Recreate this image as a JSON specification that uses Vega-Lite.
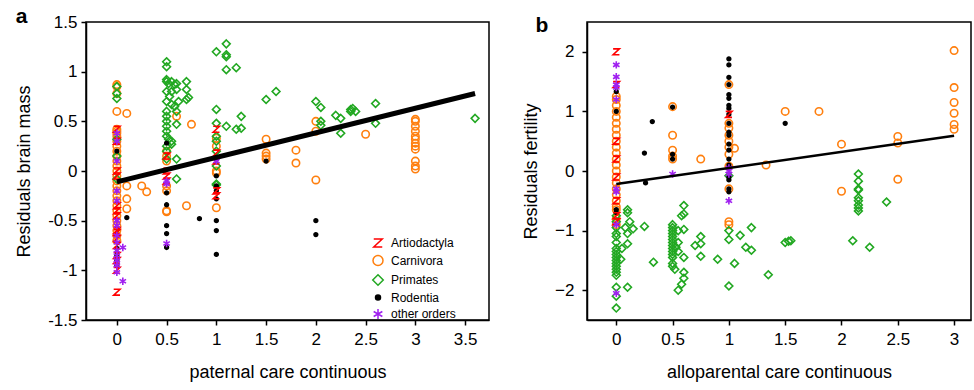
{
  "$schema": "https://vega.github.io/schema/vega-lite/v6.json",
  "padding": {"left": 14, "top": 5, "right": 0, "bottom": 0},
  "background": "white",
  "config": {
    "font": "Liberation Sans",
    "view": {"stroke": "black", "strokeWidth": 1.5},
    "axis": {"domainColor": "black", "domainWidth": 1.5, "tickColor": "black", "tickWidth": 1.5, "tickSize": 5, "labelColor": "black", "titleColor": "black", "labelFont": "Liberation Sans", "titleFont": "Liberation Sans", "labelFontSize": 17, "titleFontSize": 18, "titleFontWeight": "normal", "grid": false, "labelPadding": 4, "titlePadding": 14, "labelOverlap": false, "labelFlush": false},
    "legend": {"labelFont": "Liberation Sans", "labelFontSize": 12, "labelColor": "black"}
  },
  "datasets": {
    "a": [
      {"x":0,"y":0.87,"t":"Carnivora"},{"x":0,"y":0.85,"t":"Carnivora"},{"x":0,"y":0.78,"t":"Carnivora"},{"x":0,"y":0.6,"t":"Carnivora"},{"x":0,"y":0.42,"t":"Carnivora"},{"x":0,"y":0.4,"t":"Carnivora"},{"x":0,"y":0.38,"t":"Carnivora"},{"x":0,"y":0.35,"t":"Carnivora"},{"x":0,"y":0.3,"t":"Carnivora"},{"x":0,"y":0.25,"t":"Carnivora"},{"x":0,"y":0.2,"t":"Carnivora"},{"x":0,"y":0.15,"t":"Carnivora"},{"x":0,"y":0.1,"t":"Carnivora"},{"x":0,"y":0.05,"t":"Carnivora"},{"x":0,"y":0.0,"t":"Carnivora"},{"x":0,"y":-0.05,"t":"Carnivora"},{"x":0,"y":-0.1,"t":"Carnivora"},{"x":0,"y":-0.15,"t":"Carnivora"},{"x":0,"y":-0.2,"t":"Carnivora"},{"x":0,"y":-0.25,"t":"Carnivora"},{"x":0,"y":-0.3,"t":"Carnivora"},{"x":0,"y":-0.35,"t":"Carnivora"},{"x":0,"y":-0.4,"t":"Carnivora"},{"x":0,"y":-0.45,"t":"Carnivora"},{"x":0,"y":-0.5,"t":"Carnivora"},{"x":0,"y":-0.55,"t":"Carnivora"},{"x":0,"y":-0.6,"t":"Carnivora"},{"x":0,"y":-0.65,"t":"Carnivora"},{"x":0,"y":-0.7,"t":"Carnivora"},
      {"x":0.1,"y":0.58,"t":"Carnivora"},{"x":0.1,"y":-0.15,"t":"Carnivora"},{"x":0.1,"y":-0.28,"t":"Carnivora"},{"x":0.1,"y":-0.38,"t":"Carnivora"},{"x":0.25,"y":-0.15,"t":"Carnivora"},{"x":0.3,"y":-0.21,"t":"Carnivora"},{"x":0.6,"y":0.55,"t":"Carnivora"},{"x":0.75,"y":0.47,"t":"Carnivora"},{"x":0.5,"y":0.2,"t":"Carnivora"},{"x":0.5,"y":0.15,"t":"Carnivora"},{"x":0.5,"y":0.1,"t":"Carnivora"},{"x":0.5,"y":-0.15,"t":"Carnivora"},{"x":0.5,"y":-0.2,"t":"Carnivora"},{"x":0.5,"y":-0.4,"t":"Carnivora"},{"x":0.5,"y":-0.41,"t":"Carnivora"},{"x":0.7,"y":-0.35,"t":"Carnivora"},{"x":1,"y":0.33,"t":"Carnivora"},{"x":1,"y":0.25,"t":"Carnivora"},{"x":1,"y":0.0,"t":"Carnivora"},{"x":1,"y":-0.02,"t":"Carnivora"},{"x":1,"y":-0.37,"t":"Carnivora"},{"x":1.5,"y":0.32,"t":"Carnivora"},{"x":1.5,"y":0.18,"t":"Carnivora"},{"x":1.5,"y":0.15,"t":"Carnivora"},{"x":1.5,"y":0.12,"t":"Carnivora"},{"x":1.8,"y":0.21,"t":"Carnivora"},{"x":1.8,"y":0.08,"t":"Carnivora"},{"x":2,"y":0.5,"t":"Carnivora"},{"x":2,"y":0.4,"t":"Carnivora"},{"x":2,"y":-0.09,"t":"Carnivora"},{"x":2.5,"y":0.37,"t":"Carnivora"},{"x":3,"y":0.52,"t":"Carnivora"},{"x":3,"y":0.5,"t":"Carnivora"},{"x":3,"y":0.45,"t":"Carnivora"},{"x":3,"y":0.4,"t":"Carnivora"},{"x":3,"y":0.35,"t":"Carnivora"},{"x":3,"y":0.32,"t":"Carnivora"},{"x":3,"y":0.28,"t":"Carnivora"},{"x":3,"y":0.25,"t":"Carnivora"},{"x":3,"y":0.22,"t":"Carnivora"},{"x":3,"y":0.1,"t":"Carnivora"},{"x":3,"y":0.05,"t":"Carnivora"},{"x":3,"y":0.02,"t":"Carnivora"},
      {"x":0,"y":0.85,"t":"Primates"},{"x":0,"y":0.78,"t":"Primates"},{"x":0,"y":0.73,"t":"Primates"},{"x":0,"y":0.32,"t":"Primates"},{"x":0,"y":0.15,"t":"Primates"},{"x":0,"y":-0.08,"t":"Primates"},
      {"x":0.5,"y":1.1,"t":"Primates"},{"x":0.5,"y":1.05,"t":"Primates"},{"x":0.5,"y":0.92,"t":"Primates"},{"x":0.5,"y":0.9,"t":"Primates"},{"x":0.52,"y":0.88,"t":"Primates"},{"x":0.55,"y":0.9,"t":"Primates"},{"x":0.58,"y":0.87,"t":"Primates"},{"x":0.6,"y":0.88,"t":"Primates"},{"x":0.7,"y":0.9,"t":"Primates"},{"x":0.55,"y":0.8,"t":"Primates"},{"x":0.5,"y":0.8,"t":"Primates"},{"x":0.53,"y":0.75,"t":"Primates"},{"x":0.6,"y":0.82,"t":"Primates"},{"x":0.7,"y":0.82,"t":"Primates"},{"x":0.72,"y":0.74,"t":"Primates"},{"x":0.7,"y":0.72,"t":"Primates"},{"x":0.5,"y":0.7,"t":"Primates"},{"x":0.55,"y":0.67,"t":"Primates"},{"x":0.58,"y":0.65,"t":"Primates"},{"x":0.62,"y":0.7,"t":"Primates"},{"x":0.6,"y":0.6,"t":"Primates"},{"x":0.5,"y":0.6,"t":"Primates"},{"x":0.5,"y":0.55,"t":"Primates"},{"x":0.5,"y":0.5,"t":"Primates"},{"x":0.5,"y":0.45,"t":"Primates"},{"x":0.5,"y":0.4,"t":"Primates"},{"x":0.5,"y":0.35,"t":"Primates"},{"x":0.52,"y":0.32,"t":"Primates"},{"x":0.55,"y":0.3,"t":"Primates"},{"x":0.6,"y":0.47,"t":"Primates"},{"x":0.5,"y":0.25,"t":"Primates"},{"x":0.55,"y":0.27,"t":"Primates"},{"x":0.5,"y":0.12,"t":"Primates"},{"x":0.6,"y":0.12,"t":"Primates"},{"x":0.6,"y":-0.08,"t":"Primates"},{"x":0.5,"y":0.2,"t":"Primates"},
      {"x":1,"y":1.2,"t":"Primates"},{"x":1.1,"y":1.28,"t":"Primates"},{"x":1.1,"y":1.17,"t":"Primates"},{"x":1.1,"y":1.15,"t":"Primates"},{"x":1.1,"y":1.02,"t":"Primates"},{"x":1.2,"y":1.04,"t":"Primates"},{"x":1,"y":0.62,"t":"Primates"},{"x":1,"y":0.48,"t":"Primates"},{"x":1.1,"y":0.45,"t":"Primates"},{"x":1.25,"y":0.55,"t":"Primates"},{"x":1.2,"y":0.42,"t":"Primates"},{"x":1.25,"y":0.43,"t":"Primates"},{"x":1,"y":0.35,"t":"Primates"},{"x":1,"y":0.3,"t":"Primates"},{"x":1,"y":0.2,"t":"Primates"},{"x":1,"y":0.05,"t":"Primates"},{"x":1,"y":-0.13,"t":"Primates"},{"x":1,"y":-0.14,"t":"Primates"},
      {"x":1.5,"y":0.72,"t":"Primates"},{"x":1.6,"y":0.8,"t":"Primates"},{"x":2,"y":0.7,"t":"Primates"},{"x":2.05,"y":0.64,"t":"Primates"},{"x":2.05,"y":0.5,"t":"Primates"},{"x":2.05,"y":0.46,"t":"Primates"},{"x":2.2,"y":0.56,"t":"Primates"},{"x":2.25,"y":0.53,"t":"Primates"},{"x":2.25,"y":0.38,"t":"Primates"},{"x":2.35,"y":0.62,"t":"Primates"},{"x":2.35,"y":0.6,"t":"Primates"},{"x":2.37,"y":0.63,"t":"Primates"},{"x":2.4,"y":0.6,"t":"Primates"},{"x":2.6,"y":0.68,"t":"Primates"},{"x":2.6,"y":0.48,"t":"Primates"},{"x":3.6,"y":0.53,"t":"Primates"},
      {"x":0,"y":0.2,"t":"Rodentia"},{"x":0,"y":-0.78,"t":"Rodentia"},{"x":0,"y":-0.85,"t":"Rodentia"},{"x":0,"y":-0.9,"t":"Rodentia"},{"x":0,"y":-0.95,"t":"Rodentia"},{"x":0.1,"y":-0.47,"t":"Rodentia"},{"x":0.5,"y":0.28,"t":"Rodentia"},{"x":0.5,"y":-0.22,"t":"Rodentia"},{"x":0.5,"y":-0.34,"t":"Rodentia"},{"x":0.5,"y":-0.55,"t":"Rodentia"},{"x":0.5,"y":-0.63,"t":"Rodentia"},{"x":0.5,"y":-0.77,"t":"Rodentia"},{"x":0.83,"y":-0.48,"t":"Rodentia"},{"x":1,"y":0.12,"t":"Rodentia"},{"x":1,"y":-0.05,"t":"Rodentia"},{"x":1,"y":-0.15,"t":"Rodentia"},{"x":1,"y":-0.2,"t":"Rodentia"},{"x":1,"y":-0.28,"t":"Rodentia"},{"x":1,"y":-0.5,"t":"Rodentia"},{"x":1,"y":-0.6,"t":"Rodentia"},{"x":1,"y":-0.84,"t":"Rodentia"},{"x":1.5,"y":0.1,"t":"Rodentia"},{"x":2,"y":-0.5,"t":"Rodentia"},{"x":2,"y":-0.64,"t":"Rodentia"},
      {"x":0,"y":0.42,"t":"Artiodactyla"},{"x":0,"y":0.3,"t":"Artiodactyla"},{"x":0,"y":0.0,"t":"Artiodactyla"},{"x":0,"y":-0.05,"t":"Artiodactyla"},{"x":0,"y":-0.35,"t":"Artiodactyla"},{"x":0,"y":-0.4,"t":"Artiodactyla"},{"x":0,"y":-0.45,"t":"Artiodactyla"},{"x":0,"y":-0.6,"t":"Artiodactyla"},{"x":0,"y":-0.62,"t":"Artiodactyla"},{"x":0,"y":-0.68,"t":"Artiodactyla"},{"x":0,"y":-0.75,"t":"Artiodactyla"},{"x":0,"y":-0.85,"t":"Artiodactyla"},{"x":0,"y":-0.9,"t":"Artiodactyla"},{"x":0,"y":-1.0,"t":"Artiodactyla"},{"x":0,"y":-1.22,"t":"Artiodactyla"},{"x":0.5,"y":0.15,"t":"Artiodactyla"},{"x":0.5,"y":0.0,"t":"Artiodactyla"},{"x":0.5,"y":-0.05,"t":"Artiodactyla"},{"x":0.5,"y":-0.1,"t":"Artiodactyla"},{"x":1,"y":0.42,"t":"Artiodactyla"},{"x":1,"y":0.18,"t":"Artiodactyla"},{"x":1,"y":0.1,"t":"Artiodactyla"},{"x":1,"y":-0.2,"t":"Artiodactyla"},{"x":1,"y":-0.25,"t":"Artiodactyla"},
      {"x":0,"y":0.38,"t":"other orders"},{"x":0,"y":0.3,"t":"other orders"},{"x":0,"y":0.1,"t":"other orders"},{"x":0,"y":-0.2,"t":"other orders"},{"x":0,"y":-0.3,"t":"other orders"},{"x":0,"y":-0.5,"t":"other orders"},{"x":0,"y":-0.55,"t":"other orders"},{"x":0,"y":-0.65,"t":"other orders"},{"x":0,"y":-0.72,"t":"other orders"},{"x":0,"y":-0.8,"t":"other orders"},{"x":0,"y":-0.85,"t":"other orders"},{"x":0,"y":-0.9,"t":"other orders"},{"x":0,"y":-0.95,"t":"other orders"},{"x":0,"y":-1.02,"t":"other orders"},{"x":0.06,"y":-0.77,"t":"other orders"},{"x":0.06,"y":-1.11,"t":"other orders"},{"x":0.5,"y":-0.1,"t":"other orders"},{"x":0.5,"y":-0.13,"t":"other orders"},{"x":0.5,"y":-0.73,"t":"other orders"},{"x":1,"y":0.1,"t":"other orders"}
    ],
    "b": [
      {"x":0,"y":1.25,"t":"Carnivora"},{"x":0,"y":1.2,"t":"Carnivora"},{"x":0,"y":1.1,"t":"Carnivora"},{"x":0,"y":1.0,"t":"Carnivora"},{"x":0,"y":0.9,"t":"Carnivora"},{"x":0,"y":0.8,"t":"Carnivora"},{"x":0,"y":0.7,"t":"Carnivora"},{"x":0,"y":0.6,"t":"Carnivora"},{"x":0,"y":0.5,"t":"Carnivora"},{"x":0,"y":0.4,"t":"Carnivora"},{"x":0,"y":0.3,"t":"Carnivora"},{"x":0,"y":0.2,"t":"Carnivora"},{"x":0,"y":0.1,"t":"Carnivora"},{"x":0,"y":0.0,"t":"Carnivora"},{"x":0,"y":-0.1,"t":"Carnivora"},{"x":0,"y":-0.2,"t":"Carnivora"},{"x":0,"y":-0.3,"t":"Carnivora"},{"x":0,"y":-0.4,"t":"Carnivora"},{"x":0,"y":-0.5,"t":"Carnivora"},{"x":0,"y":-0.6,"t":"Carnivora"},{"x":0,"y":-0.65,"t":"Carnivora"},{"x":0,"y":-0.8,"t":"Carnivora"},{"x":0,"y":-0.9,"t":"Carnivora"},
      {"x":0.5,"y":1.08,"t":"Carnivora"},{"x":0.5,"y":0.6,"t":"Carnivora"},{"x":0.5,"y":0.35,"t":"Carnivora"},{"x":0.5,"y":0.25,"t":"Carnivora"},{"x":0.5,"y":0.2,"t":"Carnivora"},{"x":0.75,"y":0.2,"t":"Carnivora"},{"x":1,"y":1.45,"t":"Carnivora"},{"x":1,"y":0.8,"t":"Carnivora"},{"x":1,"y":0.72,"t":"Carnivora"},{"x":1,"y":0.6,"t":"Carnivora"},{"x":1,"y":0.5,"t":"Carnivora"},{"x":1,"y":0.4,"t":"Carnivora"},{"x":1,"y":0.28,"t":"Carnivora"},{"x":1,"y":0.08,"t":"Carnivora"},{"x":1,"y":-0.3,"t":"Carnivora"},{"x":1,"y":-0.85,"t":"Carnivora"},{"x":1,"y":-0.9,"t":"Carnivora"},{"x":1.05,"y":0.38,"t":"Carnivora"},{"x":1.33,"y":0.1,"t":"Carnivora"},{"x":1.5,"y":1.0,"t":"Carnivora"},{"x":1.8,"y":1.0,"t":"Carnivora"},{"x":2,"y":0.45,"t":"Carnivora"},{"x":2,"y":-0.34,"t":"Carnivora"},{"x":2.5,"y":0.58,"t":"Carnivora"},{"x":2.5,"y":0.47,"t":"Carnivora"},{"x":2.5,"y":-0.14,"t":"Carnivora"},{"x":3,"y":2.02,"t":"Carnivora"},{"x":3,"y":1.4,"t":"Carnivora"},{"x":3,"y":1.15,"t":"Carnivora"},{"x":3,"y":0.97,"t":"Carnivora"},{"x":3,"y":0.78,"t":"Carnivora"},{"x":3,"y":0.7,"t":"Carnivora"},
      {"x":0,"y":-0.75,"t":"Primates"},{"x":0,"y":-0.85,"t":"Primates"},{"x":0,"y":-0.95,"t":"Primates"},{"x":0,"y":-1.05,"t":"Primates"},{"x":0,"y":-1.1,"t":"Primates"},{"x":0,"y":-1.2,"t":"Primates"},{"x":0,"y":-1.3,"t":"Primates"},{"x":0,"y":-1.35,"t":"Primates"},{"x":0,"y":-1.4,"t":"Primates"},{"x":0,"y":-1.45,"t":"Primates"},{"x":0,"y":-1.5,"t":"Primates"},{"x":0,"y":-1.55,"t":"Primates"},{"x":0,"y":-1.6,"t":"Primates"},{"x":0,"y":-1.65,"t":"Primates"},{"x":0,"y":-1.7,"t":"Primates"},{"x":0,"y":-1.75,"t":"Primates"},{"x":0,"y":-1.95,"t":"Primates"},{"x":0,"y":-2.1,"t":"Primates"},{"x":0,"y":-2.3,"t":"Primates"},{"x":0.1,"y":-0.65,"t":"Primates"},{"x":0.1,"y":-0.7,"t":"Primates"},{"x":0.12,"y":-0.85,"t":"Primates"},{"x":0.08,"y":-0.95,"t":"Primates"},{"x":0.15,"y":-0.97,"t":"Primates"},{"x":0.1,"y":-1.05,"t":"Primates"},{"x":0.1,"y":-1.22,"t":"Primates"},{"x":0.05,"y":-1.3,"t":"Primates"},{"x":0.04,"y":-1.48,"t":"Primates"},{"x":0.1,"y":-1.95,"t":"Primates"},{"x":0.25,"y":-0.93,"t":"Primates"},{"x":0.33,"y":-1.53,"t":"Primates"},
      {"x":0.5,"y":-0.9,"t":"Primates"},{"x":0.5,"y":-0.95,"t":"Primates"},{"x":0.5,"y":-1.0,"t":"Primates"},{"x":0.5,"y":-1.05,"t":"Primates"},{"x":0.5,"y":-1.1,"t":"Primates"},{"x":0.5,"y":-1.15,"t":"Primates"},{"x":0.5,"y":-1.2,"t":"Primates"},{"x":0.5,"y":-1.25,"t":"Primates"},{"x":0.5,"y":-1.3,"t":"Primates"},{"x":0.5,"y":-1.35,"t":"Primates"},{"x":0.5,"y":-1.4,"t":"Primates"},{"x":0.5,"y":-1.45,"t":"Primates"},{"x":0.5,"y":-1.55,"t":"Primates"},{"x":0.5,"y":-1.6,"t":"Primates"},{"x":0.52,"y":-1.65,"t":"Primates"},{"x":0.55,"y":-1.0,"t":"Primates"},{"x":0.55,"y":-1.2,"t":"Primates"},{"x":0.55,"y":-1.35,"t":"Primates"},{"x":0.53,"y":-1.28,"t":"Primates"},{"x":0.6,"y":-0.58,"t":"Primates"},{"x":0.58,"y":-0.75,"t":"Primates"},{"x":0.6,"y":-0.72,"t":"Primates"},{"x":0.6,"y":-0.98,"t":"Primates"},{"x":0.6,"y":-1.45,"t":"Primates"},{"x":0.6,"y":-1.7,"t":"Primates"},{"x":0.6,"y":-1.8,"t":"Primates"},{"x":0.58,"y":-1.9,"t":"Primates"},{"x":0.55,"y":-2.0,"t":"Primates"},{"x":0.7,"y":-1.25,"t":"Primates"},{"x":0.75,"y":-1.1,"t":"Primates"},{"x":0.75,"y":-1.22,"t":"Primates"},{"x":0.75,"y":-1.43,"t":"Primates"},{"x":0.9,"y":-1.48,"t":"Primates"},
      {"x":1,"y":-0.08,"t":"Primates"},{"x":1,"y":-1.0,"t":"Primates"},{"x":1,"y":-1.15,"t":"Primates"},{"x":1.1,"y":-1.08,"t":"Primates"},{"x":1.15,"y":-1.28,"t":"Primates"},{"x":1.2,"y":-0.95,"t":"Primates"},{"x":1.2,"y":-1.33,"t":"Primates"},{"x":1.05,"y":-1.55,"t":"Primates"},{"x":1,"y":-1.93,"t":"Primates"},{"x":1.35,"y":-1.74,"t":"Primates"},{"x":1.5,"y":-1.2,"t":"Primates"},{"x":1.53,"y":-1.18,"t":"Primates"},{"x":1.55,"y":-1.17,"t":"Primates"},{"x":2.15,"y":-0.05,"t":"Primates"},{"x":2.15,"y":-0.17,"t":"Primates"},{"x":2.15,"y":-0.3,"t":"Primates"},{"x":2.15,"y":-0.32,"t":"Primates"},{"x":2.15,"y":-0.45,"t":"Primates"},{"x":2.15,"y":-0.5,"t":"Primates"},{"x":2.15,"y":-0.57,"t":"Primates"},{"x":2.15,"y":-0.62,"t":"Primates"},{"x":2.15,"y":-0.67,"t":"Primates"},{"x":2.1,"y":-1.17,"t":"Primates"},{"x":2.25,"y":-1.28,"t":"Primates"},{"x":2.4,"y":-0.52,"t":"Primates"},
      {"x":0,"y":1.33,"t":"Rodentia"},{"x":0,"y":1.0,"t":"Rodentia"},{"x":0,"y":-0.65,"t":"Rodentia"},{"x":0,"y":-0.7,"t":"Rodentia"},{"x":0.25,"y":0.3,"t":"Rodentia"},{"x":0.32,"y":0.83,"t":"Rodentia"},{"x":0.26,"y":-0.2,"t":"Rodentia"},{"x":0.5,"y":1.07,"t":"Rodentia"},{"x":0.5,"y":0.28,"t":"Rodentia"},{"x":0.5,"y":0.2,"t":"Rodentia"},{"x":1,"y":1.88,"t":"Rodentia"},{"x":1,"y":1.78,"t":"Rodentia"},{"x":1,"y":1.57,"t":"Rodentia"},{"x":1,"y":1.45,"t":"Rodentia"},{"x":1,"y":1.28,"t":"Rodentia"},{"x":1,"y":1.22,"t":"Rodentia"},{"x":1,"y":1.1,"t":"Rodentia"},{"x":1,"y":1.05,"t":"Rodentia"},{"x":1,"y":0.95,"t":"Rodentia"},{"x":1,"y":0.8,"t":"Rodentia"},{"x":1,"y":0.65,"t":"Rodentia"},{"x":1,"y":0.6,"t":"Rodentia"},{"x":1,"y":0.45,"t":"Rodentia"},{"x":1,"y":0.35,"t":"Rodentia"},{"x":1,"y":0.2,"t":"Rodentia"},{"x":1,"y":0.1,"t":"Rodentia"},{"x":1,"y":-0.1,"t":"Rodentia"},{"x":1,"y":-0.15,"t":"Rodentia"},{"x":1,"y":-0.3,"t":"Rodentia"},{"x":1,"y":-0.35,"t":"Rodentia"},{"x":1.5,"y":0.8,"t":"Rodentia"},
      {"x":0,"y":2.0,"t":"Artiodactyla"},{"x":0,"y":1.45,"t":"Artiodactyla"},{"x":0,"y":0.5,"t":"Artiodactyla"},{"x":0,"y":0.2,"t":"Artiodactyla"},{"x":0,"y":-0.1,"t":"Artiodactyla"},{"x":0,"y":-0.5,"t":"Artiodactyla"},{"x":0,"y":-0.75,"t":"Artiodactyla"},{"x":0,"y":-0.85,"t":"Artiodactyla"},{"x":1,"y":0.95,"t":"Artiodactyla"},
      {"x":0,"y":1.78,"t":"other orders"},{"x":0,"y":1.58,"t":"other orders"},{"x":0,"y":1.45,"t":"other orders"},{"x":0,"y":1.4,"t":"other orders"},{"x":0,"y":1.2,"t":"other orders"},{"x":0,"y":-0.3,"t":"other orders"},{"x":0,"y":-0.35,"t":"other orders"},{"x":0,"y":-0.9,"t":"other orders"},{"x":0,"y":-2.05,"t":"other orders"},{"x":0.5,"y":-0.05,"t":"other orders"},{"x":1,"y":0.05,"t":"other orders"},{"x":1,"y":0.0,"t":"other orders"},{"x":1,"y":-0.05,"t":"other orders"},{"x":1,"y":-0.5,"t":"other orders"}
    ],
    "lineA": [{"x":0,"y":-0.11},{"x":3.6,"y":0.78}],
    "lineB": [{"x":0,"y":-0.22},{"x":3,"y":0.59}]
  },
  "spacing": 31,
  "resolve": {"scale": {"shape": "independent", "stroke": "independent", "fill": "independent"}, "legend": {"shape": "independent", "stroke": "independent", "fill": "independent"}},
  "hconcat": [
    {
      "width": 403,
      "height": 298,
      "title": {"text": "a", "anchor": "start", "frame": "bounds", "fontSize": 21, "fontWeight": "bold", "color": "black", "offset": -14},
      "layer": [
        {
          "data": {"name": "a"},
          "mark": {"type": "point", "strokeWidth": 1.6, "opacity": 1, "size": 55},
          "encoding": {
            "x": {"field": "x", "type": "quantitative", "scale": {"domain": [-0.31, 3.74], "nice": false, "zero": false}, "axis": {"title": "paternal care continuous", "values": [0,0.5,1,1.5,2,2.5,3,3.5], "labelExpr": "format(datum.value, '~g')", "labelPadding": 6, "titlePadding": 16}},
            "y": {"field": "y", "type": "quantitative", "scale": {"domain": [-1.5, 1.5], "nice": false, "zero": false}, "axis": {"title": "Residuals brain mass", "values": [-1.5,-1,-0.5,0,0.5,1,1.5], "labelExpr": "datum.value < 0 ? '-' + format(-datum.value, '~g') : format(datum.value, '~g')", "titlePadding": 14}},
            "shape": {"field": "t", "type": "nominal", "scale": {"domain": ["Artiodactyla","Carnivora","Primates","Rodentia","other orders"], "range": ["M-0.85,-0.8L0.85,-0.8L-0.85,0.8L0.85,0.8", "circle", "M0,-1.05L1.05,0L0,1.05L-1.05,0Z", "M-0.5,0A0.5,0.5 0 1,0 0.5,0A0.5,0.5 0 1,0 -0.5,0Z", "M0,-1L0,1M-0.87,-0.5L0.87,0.5M-0.87,0.5L0.87,-0.5"]}, "legend": {"title": null, "orient": "none", "legendX": 286, "legendY": 215, "padding": 0, "labelOffset": 7, "rowPadding": 2.5}},
            "stroke": {"field": "t", "type": "nominal", "scale": {"domain": ["Artiodactyla","Carnivora","Primates","Rodentia","other orders"], "range": ["#ff0000", "#ff7f0e", "#22a822", "#000000", "#a020f0"]}, "legend": {"title": null, "orient": "none", "legendX": 286, "legendY": 215, "padding": 0, "labelOffset": 7, "rowPadding": 2.5}},
            "fill": {"field": "t", "type": "nominal", "scale": {"domain": ["Artiodactyla","Carnivora","Primates","Rodentia","other orders"], "range": ["transparent", "transparent", "transparent", "#000000", "transparent"]}, "legend": {"title": null, "orient": "none", "legendX": 286, "legendY": 215, "padding": 0, "labelOffset": 7, "rowPadding": 2.5}}
          }
        },
        {
          "data": {"name": "lineA"},
          "mark": {"type": "line", "color": "black", "strokeWidth": 5},
          "encoding": {"x": {"field": "x", "type": "quantitative"}, "y": {"field": "y", "type": "quantitative"}}
        }
      ]
    },
    {
      "width": 384,
      "height": 298,
      "title": {"text": "b", "anchor": "start", "frame": "bounds", "fontSize": 21, "fontWeight": "bold", "color": "black", "offset": -14, "dx": 13},
      "layer": [
        {
          "data": {"name": "b"},
          "mark": {"type": "point", "strokeWidth": 1.6, "opacity": 1, "size": 55},
          "encoding": {
            "x": {"field": "x", "type": "quantitative", "scale": {"domain": [-0.26, 3.15], "nice": false, "zero": false}, "axis": {"title": "alloparental care continuous", "values": [0,0.5,1,1.5,2,2.5,3], "format": "~g", "labelPadding": 6, "titlePadding": 16}},
            "y": {"field": "y", "type": "quantitative", "scale": {"domain": [-2.5, 2.5], "nice": false, "zero": false}, "axis": {"title": "Residuals fertility", "values": [-2,-1,0,1,2], "format": "~g", "labelPadding": 8, "titlePadding": 14}},
            "shape": {"field": "t", "type": "nominal", "scale": {"domain": ["Artiodactyla","Carnivora","Primates","Rodentia","other orders"], "range": ["M-0.85,-0.8L0.85,-0.8L-0.85,0.8L0.85,0.8", "circle", "M0,-1.05L1.05,0L0,1.05L-1.05,0Z", "M-0.5,0A0.5,0.5 0 1,0 0.5,0A0.5,0.5 0 1,0 -0.5,0Z", "M0,-1L0,1M-0.87,-0.5L0.87,0.5M-0.87,0.5L0.87,-0.5"]}, "legend": null},
            "stroke": {"field": "t", "type": "nominal", "scale": {"domain": ["Artiodactyla","Carnivora","Primates","Rodentia","other orders"], "range": ["#ff0000", "#ff7f0e", "#22a822", "#000000", "#a020f0"]}, "legend": null},
            "fill": {"field": "t", "type": "nominal", "scale": {"domain": ["Artiodactyla","Carnivora","Primates","Rodentia","other orders"], "range": ["transparent", "transparent", "transparent", "#000000", "transparent"]}, "legend": null}
          }
        },
        {
          "data": {"name": "lineB"},
          "mark": {"type": "line", "color": "black", "strokeWidth": 2.5},
          "encoding": {"x": {"field": "x", "type": "quantitative"}, "y": {"field": "y", "type": "quantitative"}}
        }
      ]
    }
  ]
}
